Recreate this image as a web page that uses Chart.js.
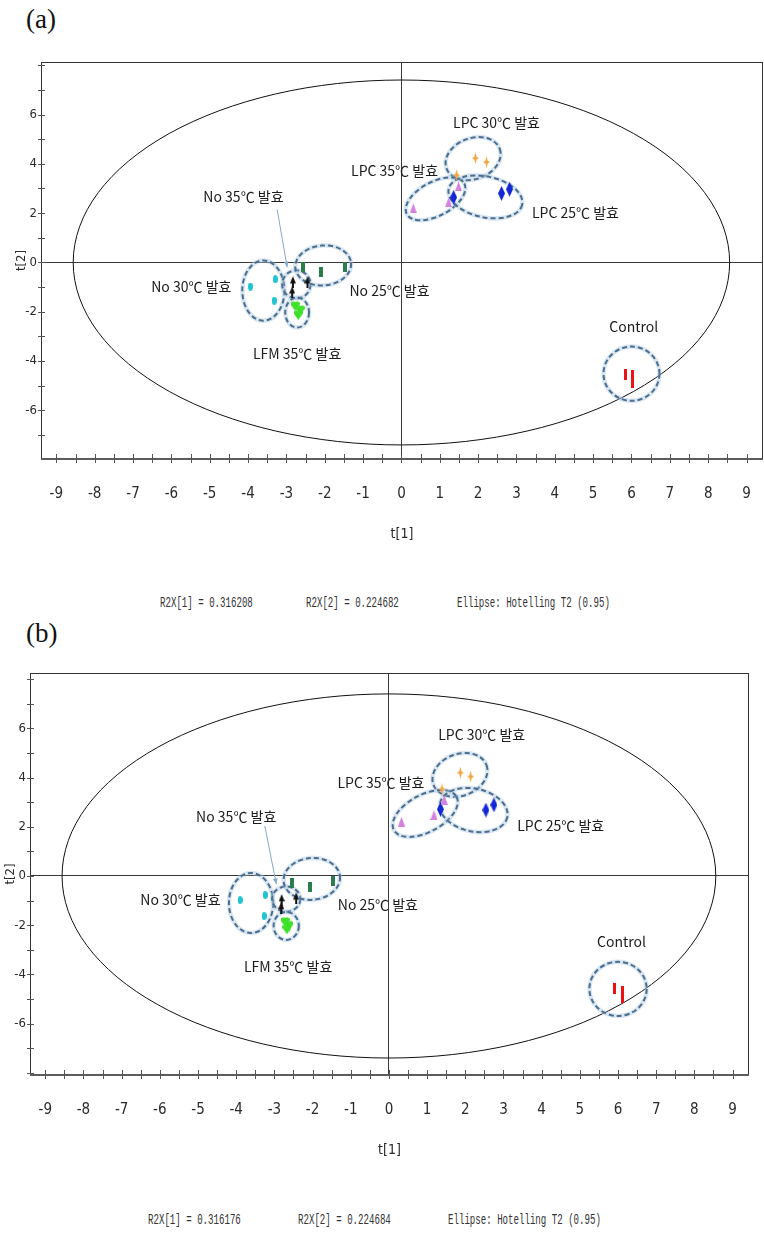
<!DOCTYPE html>
<html>
<head>
<meta charset="utf-8">
<script src="https://cdn.jsdelivr.net/npm/chart.js@4.4.1/dist/chart.umd.min.js"></script>
<style>
  body { margin: 0; background: #fff; width: 764px; height: 1246px; position: relative; overflow: hidden; }
  .panel { position: absolute; }
  .tag { position: absolute; font: 27px 'Liberation Serif', serif; color: #111; line-height: 30px; }
  .foot { position: absolute; font: 14px 'Liberation Mono', monospace; color: #333; line-height: 16px;
          transform: scaleX(0.65); transform-origin: 0 50%; white-space: nowrap; }
</style>
</head>
<body>
<div class="tag" style="left:26px;top:4px">(a)</div>
<div class="panel" style="left:0;top:0"><canvas id="pcaA" width="770" height="560"></canvas></div>
<div class="foot" style="left:160px;top:595px">R2X[1] = 0.316208</div>
<div class="foot" style="left:306px;top:595px">R2X[2] = 0.224682</div>
<div class="foot" style="left:457px;top:595px">Ellipse: Hotelling T2 (0.95)</div>

<div class="tag" style="left:26px;top:618px">(b)</div>
<div class="panel" style="left:-11px;top:611px"><canvas id="pcaB" width="770" height="565"></canvas></div>
<div class="foot" style="left:148px;top:1212px">R2X[1] = 0.316176</div>
<div class="foot" style="left:298px;top:1212px">R2X[2] = 0.224684</div>
<div class="foot" style="left:448px;top:1212px">Ellipse: Hotelling T2 (0.95)</div>

<script>
// groups, in the order used by every per-group list below
const groups = ['No 30℃ 발효', 'No 35℃ 발효', 'No 25℃ 발효', 'LFM 35℃ 발효',
                'LPC 30℃ 발효', 'LPC 35℃ 발효', 'LPC 25℃ 발효', 'Control'];

// score plot (a): [t1, t2] per sample
const scoresA = [
  [[-3.94, -0.98], [-3.29, -0.68], [-3.32, -1.55]],
  [[-2.83, -0.80], [-2.85, -1.21], [-2.45, -0.80]],
  [[-2.56, -0.20], [-2.11, -0.37], [-1.46, -0.20]],
  [[-2.77, -1.75], [-2.64, -1.91], [-2.69, -2.11]],
  [[1.93, 4.23], [2.22, 4.07], [1.44, 3.54]],
  [[0.31, 2.20], [1.23, 2.44], [1.49, 3.09]],
  [[1.36, 2.64], [2.61, 2.80], [2.82, 2.97]],
  [[5.85, -4.55], [6.02, -4.60], [6.02, -4.85]]
];
// score plot (b)
const scoresB = [
  [[-3.90, -0.98], [-3.24, -0.77], [-3.27, -1.63]],
  [[-2.81, -0.98], [-2.82, -1.30], [-2.43, -0.91]],
  [[-2.54, -0.30], [-2.08, -0.46], [-1.46, -0.19]],
  [[-2.72, -1.85], [-2.62, -2.00], [-2.67, -2.15]],
  [[1.87, 4.20], [2.14, 4.04], [1.39, 3.52]],
  [[0.33, 2.21], [1.18, 2.48], [1.45, 3.09]],
  [[1.35, 2.71], [2.54, 2.68], [2.75, 2.89]],
  [[5.91, -4.59], [6.13, -4.70], [6.13, -4.92]]
];

// dashed group rings: centre, semi-axes (t1 units, t2 units), tilt in degrees
const ringCenterA = [[-3.60, -1.14], [-2.74, -0.89], [-2.04, -0.12], [-2.72, -2.03],
                     [1.87, 4.21], [0.89, 2.58], [2.19, 2.66], [6.00, -4.51]];
const ringRadiusA = [[0.55, 1.22], [0.37, 0.57], [0.73, 0.81], [0.31, 0.61],
                     [0.74, 0.83], [0.85, 0.69], [0.98, 0.83], [0.73, 1.10]];
const ringTiltA   = [0, 0, -5, 0, -20, -28, 12, 0];

const ringCenterB = [[-3.61, -1.10], [-2.69, -0.94], [-2.02, -0.12], [-2.69, -2.03],
                     [1.86, 4.11], [0.95, 2.54], [2.22, 2.68], [6.00, -4.59]];
const ringRadiusB = [[0.58, 1.22], [0.37, 0.51], [0.74, 0.85], [0.33, 0.57],
                     [0.74, 0.85], [0.93, 0.76], [0.90, 0.87], [0.75, 1.10]];
const ringTiltB   = [0, 0, -5, 0, -20, -28, 12, 0];

// group label anchors (text centre, in score units)
const labelPosA = [[-5.48, -0.98], [-4.12, 2.68], [-0.31, -1.14], [-2.72, -3.70],
                   [2.48, 5.65], [-0.18, 3.74], [4.54, 2.03], [6.06, -2.60]];
const labelPosB = [[-5.46, -0.98], [-4.00, 2.40], [-0.29, -1.18], [-2.64, -3.70],
                   [2.43, 5.73], [-0.21, 3.78], [4.50, 2.03], [6.09, -2.68]];

// pointer from the "No 35℃" label to its ring
const leaderA = [[-3.24, 2.15], [-2.98, -0.19]];
const leaderB = [[-3.25, 2.03], [-2.95, -0.33]];

// Hotelling T2 (0.95) ellipse semi-axes
const t2Axes = [8.56, 7.40];

const xRange  = [-9.40, 9.43];
const yRangeA = [-7.97, 8.13];
const yRangeB = [-8.09, 8.25];
const yLabelLimit = 6;

const narrow = "'Liberation Sans Narrow', 'DejaVu Sans Condensed', 'Liberation Sans', sans-serif";
const labelFont = "14px 'Noto Sans CJK KR', sans-serif";

// small bitmap markers
function marker(w, h, color, draw) {
  const c = document.createElement('canvas');
  c.width = w; c.height = h;
  const g = c.getContext('2d');
  g.fillStyle = color;
  g.beginPath();
  draw(g, w, h);
  g.fill();
  return c;
}
const oval = (g, w, h) => g.ellipse(w / 2, h / 2, w / 2, h / 2, 0, 0, Math.PI * 2);
const bar = (g, w, h) => g.rect(0, 0, w, h);
const tri = (g, w, h) => { g.moveTo(w / 2, 0); g.lineTo(w, h); g.lineTo(0, h); g.closePath(); };
const diamond = (g, w, h) => { g.moveTo(w / 2, 0); g.lineTo(w, h / 2); g.lineTo(w / 2, h); g.lineTo(0, h / 2); g.closePath(); };
const star = (g, w, h) => {
  const cx = w / 2, cy = h / 2;
  g.moveTo(cx, 0); g.lineTo(cx + 1.2, cy - 1.2); g.lineTo(w, cy); g.lineTo(cx + 1.2, cy + 1.2);
  g.lineTo(cx, h); g.lineTo(cx - 1.2, cy + 1.2); g.lineTo(0, cy); g.lineTo(cx - 1.2, cy - 1.2); g.closePath();
};
const arrowUp = (g, w, h) => {
  g.moveTo(w / 2, 0); g.lineTo(w, h * 0.6); g.lineTo(w / 2 + 1, h * 0.6); g.lineTo(w / 2 + 1, h);
  g.lineTo(w / 2 - 1, h); g.lineTo(w / 2 - 1, h * 0.6); g.lineTo(0, h * 0.6); g.closePath();
};
const heart = (g, w, h) => {
  g.arc(w * 0.28, h * 0.35, w * 0.28, Math.PI * 0.8, Math.PI * 2);
  g.arc(w * 0.72, h * 0.35, w * 0.28, Math.PI, Math.PI * 2.2);
  g.lineTo(w / 2, h); g.closePath();
};

const markers = [
  marker(5, 8, '#1ec4cf', oval),
  marker(6, 12, '#111111', arrowUp),
  marker(4, 10, '#2b7d4e', bar),
  marker(9, 11, '#3ee02a', heart),
  marker(7, 12, '#f2a43c', star),
  marker(7, 10, '#d57fe0', tri),
  marker(7, 15, '#1427d6', diamond),
  marker(3, 11, '#ee1111', bar)
];

function decor(rings, labels, leader) {
  return {
    id: 'pcaDecor',
    beforeDatasetsDraw(chart) {
      const { ctx, chartArea: a, scales: { x, y } } = chart;
      const px = x.getPixelForValue(1) - x.getPixelForValue(0);
      const py = y.getPixelForValue(0) - y.getPixelForValue(1);
      ctx.save();
      ctx.beginPath();
      ctx.rect(a.left, a.top, a.right - a.left, a.bottom - a.top);
      ctx.clip();

      // Hotelling T2 ellipse
      ctx.beginPath();
      ctx.ellipse(x.getPixelForValue(0), y.getPixelForValue(0), t2Axes[0] * px, t2Axes[1] * py, 0, 0, Math.PI * 2);
      ctx.strokeStyle = '#111';
      ctx.lineWidth = 1;
      ctx.stroke();

      // group rings: soft halo under a dashed outline
      rings.center.forEach((c, i) => {
        const cx = x.getPixelForValue(c[0]), cy = y.getPixelForValue(c[1]);
        const rx = rings.radius[i][0] * px, ry = rings.radius[i][1] * py;
        const rot = rings.tilt[i] * Math.PI / 180;
        ctx.beginPath();
        ctx.ellipse(cx, cy, rx, ry, rot, 0, Math.PI * 2);
        ctx.setLineDash([]);
        ctx.strokeStyle = 'rgba(170,200,225,0.45)';
        ctx.lineWidth = 4.5;
        ctx.stroke();
        ctx.setLineDash([5, 3]);
        ctx.strokeStyle = '#4b6d8e';
        ctx.lineWidth = 2;
        ctx.stroke();
      });
      ctx.setLineDash([]);

      // leader line with a small head
      const x0 = x.getPixelForValue(leader[0][0]), y0 = y.getPixelForValue(leader[0][1]);
      const x1 = x.getPixelForValue(leader[1][0]), y1 = y.getPixelForValue(leader[1][1]);
      ctx.strokeStyle = '#86a9cc';
      ctx.lineWidth = 1;
      ctx.beginPath(); ctx.moveTo(x0, y0); ctx.lineTo(x1, y1); ctx.stroke();
      const ang = Math.atan2(y1 - y0, x1 - x0);
      ctx.fillStyle = '#86a9cc';
      ctx.beginPath();
      ctx.moveTo(x1, y1);
      ctx.lineTo(x1 - 6 * Math.cos(ang - 0.4), y1 - 6 * Math.sin(ang - 0.4));
      ctx.lineTo(x1 - 6 * Math.cos(ang + 0.4), y1 - 6 * Math.sin(ang + 0.4));
      ctx.closePath(); ctx.fill();
      ctx.restore();
    },
    afterDatasetsDraw(chart) {
      const { ctx, chartArea: a, scales: { x, y } } = chart;
      ctx.save();
      // group names
      ctx.font = labelFont;
      ctx.fillStyle = '#1c1c1c';
      ctx.textAlign = 'center';
      ctx.textBaseline = 'middle';
      labels.forEach((p, i) => ctx.fillText(groups[i], x.getPixelForValue(p[0]), y.getPixelForValue(p[1])));

      // frame
      ctx.strokeStyle = '#333';
      ctx.lineWidth = 1;
      ctx.strokeRect(a.left + 0.5, a.top + 0.5, a.right - a.left - 1, a.bottom - a.top - 1);
      ctx.strokeStyle = '#5c5c5c';
      ctx.lineWidth = 2;
      ctx.beginPath(); ctx.moveTo(a.left, a.bottom); ctx.lineTo(a.right, a.bottom); ctx.stroke();

      // tick marks across the frame
      ctx.strokeStyle = '#555';
      ctx.lineWidth = 1;
      ctx.beginPath();
      x.ticks.forEach(t => {
        const p = Math.round(x.getPixelForValue(t.value)) + 0.5;
        ctx.moveTo(p, a.bottom - 5); ctx.lineTo(p, a.bottom + 4);
      });
      y.ticks.forEach(t => {
        const p = Math.round(y.getPixelForValue(t.value)) + 0.5;
        ctx.moveTo(a.left - 3, p); ctx.lineTo(a.left + 4, p);
      });
      ctx.stroke();
      ctx.restore();
    }
  };
}

function noEdgePadding(s) {
  s.paddingLeft = 0; s.paddingRight = 0; s.paddingTop = 0; s.paddingBottom = 0;
}

// area = [left, top, right, bottom] of the plotting frame inside the canvas
function scoreChart(id, scores, yRange, area, rings, labels, leader, titlePad) {
  const canvas = document.getElementById(id);
  const zeroLine = c => (c.tick && c.tick.value === 0) ? '#3a3a3a' : 'rgba(0,0,0,0)';
  return new Chart(canvas, {
    type: 'scatter',
    data: {
      datasets: scores.map((pts, i) => ({
        label: groups[i],
        data: pts.map(p => ({ x: p[0], y: p[1] })),
        pointStyle: markers[i],
        pointRadius: 5,
        pointHoverRadius: 5
      }))
    },
    options: {
      responsive: false,
      animation: false,
      layout: { padding: { top: area[1], right: canvas.width - area[2], left: 0, bottom: 0 } },
      plugins: { legend: { display: false }, tooltip: { enabled: false } },
      scales: {
        x: {
          type: 'linear',
          min: xRange[0], max: xRange[1],
          afterFit: s => { s.height = canvas.height - area[3]; noEdgePadding(s); },
          border: { display: false },
          grid: { drawTicks: false, color: zeroLine, lineWidth: 1 },
          ticks: {
            stepSize: 0.5, includeBounds: false, autoSkip: false, maxRotation: 0, padding: 26,
            color: '#2a2a2a', font: { family: narrow, size: 15 },
            callback: v => Number.isInteger(v) ? String(v) : ''
          },
          title: { display: true, text: 't[1]', color: '#2a2a2a', font: { family: narrow, size: 14 },
                   padding: { top: 0, bottom: titlePad } }
        },
        y: {
          type: 'linear',
          min: yRange[0], max: yRange[1],
          afterFit: s => { s.width = area[0]; noEdgePadding(s); },
          border: { display: false },
          grid: { drawTicks: false, color: zeroLine, lineWidth: 1 },
          ticks: {
            stepSize: 1, includeBounds: false, autoSkip: false, padding: 4,
            color: '#2a2a2a', font: { family: narrow, size: 13 },
            callback: v => (Number.isInteger(v) && v % 2 === 0 && Math.abs(v) <= yLabelLimit) ? String(v) : ''
          },
          title: { display: true, text: 't[2]', color: '#2a2a2a', font: { family: narrow, size: 13 },
                   padding: { top: 14, bottom: 0 } }
        }
      }
    },
    plugins: [decor(rings, labels, leader)]
  });
}

scoreChart('pcaA', scoresA, yRangeA, [41, 62, 763, 459],
  { center: ringCenterA, radius: ringRadiusA, tilt: ringTiltA }, labelPosA, leaderA, 17);
scoreChart('pcaB', scoresB, yRangeB, [41, 62, 760, 464],
  { center: ringCenterB, radius: ringRadiusB, tilt: ringTiltB }, labelPosB, leaderB, 17);
</script>
</body>
</html>
